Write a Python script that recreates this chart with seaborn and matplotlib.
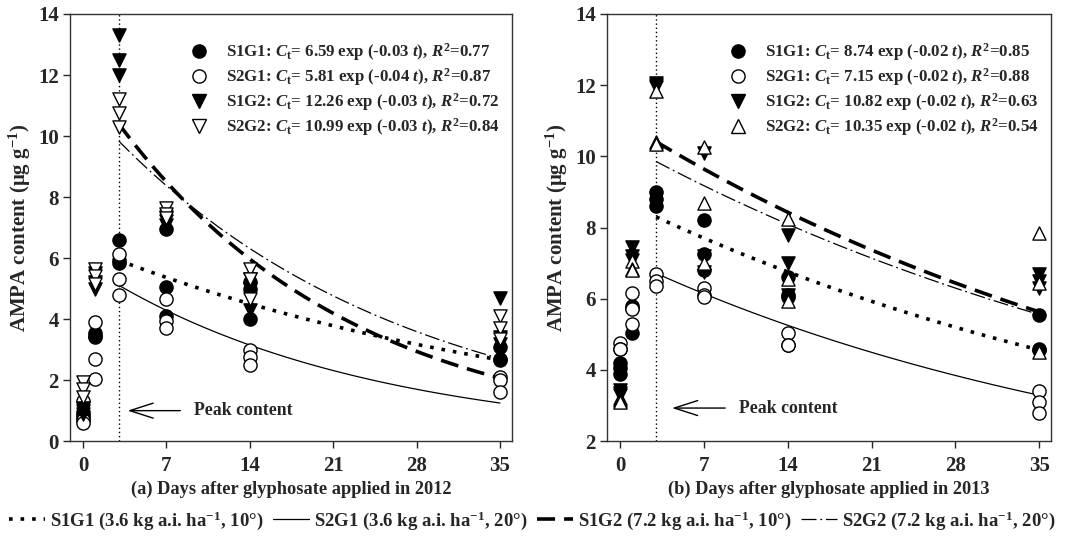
import numpy as np
import pandas as pd
import matplotlib
matplotlib.use("Agg")
import matplotlib.pyplot as plt
from matplotlib.lines import Line2D
import seaborn as sns

# ------------------------------------------------------------------
# Data, 3 replicates per sampling day
# ------------------------------------------------------------------
days = [0, 1, 3, 7, 14, 35]
treatments = ["S1G1", "S2G1", "S1G2", "S2G2"]

# 2012
a_s1g1 = [[0.95, 0.85, 0.75], [3.55, 3.45, 3.40], [6.60, 5.95, 5.85],
          [6.95, 5.05, 4.10], [5.20, 5.00, 4.00], [3.10, 2.70, 2.65]]
a_s2g1 = [[1.30, 0.70, 0.60], [3.90, 2.70, 2.05], [6.15, 5.30, 4.80],
          [4.65, 3.95, 3.70], [3.00, 2.75, 2.50], [2.10, 2.00, 1.60]]
a_s1g2 = [[1.00, 1.10, 0.90], [5.50, 5.20, 5.00], [13.30, 12.50, 12.00],
          [7.20, 7.35, 7.10], [5.30, 5.00, 4.30], [4.70, 3.40, 3.20]]
a_s2g2 = [[1.95, 1.70, 1.45], [5.65, 5.40, 5.15], [11.20, 10.75, 10.30],
          [7.65, 7.45, 7.30], [5.65, 5.30, 4.65], [4.10, 3.70, 3.35]]

# 2013
b_s1g1 = [[4.20, 4.05, 3.90], [5.80, 5.75, 5.05], [9.00, 8.80, 8.60],
          [8.20, 7.25, 6.80], [6.60, 6.10, 6.05], [5.55, 4.60, 4.55]]
b_s2g1 = [[4.75, 4.60, 4.60], [6.15, 5.70, 5.30], [6.70, 6.50, 6.35],
          [6.30, 6.10, 6.05], [5.05, 4.70, 4.70], [3.40, 3.10, 2.80]]
b_s1g2 = [[3.45, 3.35, 3.30], [7.45, 7.20, 7.10], [12.05, 12.00, 11.95],
          [10.10, 7.20, 6.75], [7.80, 7.00, 6.10], [6.70, 6.50, 6.30]]
b_s2g2 = [[3.20, 3.15, 3.10], [7.05, 6.85, 6.80], [11.85, 10.40, 10.35],
          [10.25, 8.70, 7.00], [8.25, 6.55, 5.95], [7.85, 6.45, 4.50]]

# fitted first-order decay curves (as drawn), from day 3 to day 35
fit_a_2012 = [6.39, 5.83, 12.10, 11.10]
fit_k_2012 = [0.0250, 0.0440, 0.0505, 0.0403]
fit_a_2013 = [8.78, 7.18, 11.03, 10.40]
fit_k_2013 = [0.0187, 0.0223, 0.0192, 0.0179]

labels_2012 = [
    r"S1G1: $\mathit{C}_{\mathrm{t}}$= 6.59 exp (-0.03 $\mathit{t}$), $\mathit{R}^{2}$=0.77",
    r"S2G1: $\mathit{C}_{\mathrm{t}}$= 5.81 exp (-0.04 $\mathit{t}$), $\mathit{R}^{2}$=0.87",
    r"S1G2: $\mathit{C}_{\mathrm{t}}$= 12.26 exp (-0.03 $\mathit{t}$), $\mathit{R}^{2}$=0.72",
    r"S2G2: $\mathit{C}_{\mathrm{t}}$= 10.99 exp (-0.03 $\mathit{t}$), $\mathit{R}^{2}$=0.84",
]
labels_2013 = [
    r"S1G1: $\mathit{C}_{\mathrm{t}}$= 8.74 exp (-0.02 $\mathit{t}$), $\mathit{R}^{2}$=0.85",
    r"S2G1: $\mathit{C}_{\mathrm{t}}$= 7.15 exp (-0.02 $\mathit{t}$), $\mathit{R}^{2}$=0.88",
    r"S1G2: $\mathit{C}_{\mathrm{t}}$= 10.82 exp (-0.02 $\mathit{t}$), $\mathit{R}^{2}$=0.63",
    r"S2G2: $\mathit{C}_{\mathrm{t}}$= 10.35 exp (-0.02 $\mathit{t}$), $\mathit{R}^{2}$=0.54",
]
bottom_labels = [
    r"S1G1 (3.6 kg a.i. ha$^{-1}$, 10°)",
    r"S2G1 (3.6 kg a.i. ha$^{-1}$, 20°)",
    r"S1G2 (7.2 kg a.i. ha$^{-1}$, 10°)",
    r"S2G2 (7.2 kg a.i. ha$^{-1}$, 20°)",
]

# ------------------------------------------------------------------
# Style
# ------------------------------------------------------------------
sns.set_theme(style="ticks")
plt.rcParams["font.family"] = ["Liberation Serif", "DejaVu Serif"]
plt.rcParams["font.weight"] = "bold"
plt.rcParams["axes.labelweight"] = "bold"
plt.rcParams["mathtext.fontset"] = "custom"
plt.rcParams["mathtext.rm"] = "Liberation Serif:bold"
plt.rcParams["mathtext.bf"] = "Liberation Serif:bold"
plt.rcParams["mathtext.it"] = "Liberation Serif:italic:bold"

line_styles = {
    "S1G1": dict(linestyle=(0, (1, 2.2)), linewidth=2.6),
    "S2G1": dict(linestyle="-", linewidth=0.9),
    "S1G2": dict(linestyle=(0, (5, 2.5)), linewidth=2.6),
    "S2G2": dict(linestyle=(0, (12, 3, 1.5, 3)), linewidth=0.9),
}


def long_frame(series):
    rows = []
    for trt, vals in zip(treatments, series):
        for d, reps in zip(days, vals):
            for v in reps:
                rows.append((trt, d, v))
    return pd.DataFrame(rows, columns=["trt", "day", "ampa"])


def curve_frame(fa, fk):
    t = np.linspace(3, 35, 120)
    frames = []
    for trt, a, k in zip(treatments, fa, fk):
        frames.append(pd.DataFrame({"trt": trt, "day": t, "ampa": a * np.exp(-k * t)}))
    return pd.concat(frames)


def draw_panel(ax, pts, curves, s2g2_marker, labels, ylim, arrow, xlabel):
    markers = {"S1G1": ("o", "black"), "S2G1": ("o", "white"),
               "S1G2": ("v", "black"), "S2G2": (s2g2_marker, "white")}

    for trt in treatments:
        sub = curves[curves["trt"] == trt]
        sns.lineplot(data=sub, x="day", y="ampa", ax=ax, color="black",
                     legend=False, **line_styles[trt])

    for trt in treatments:
        sub = pts[pts["trt"] == trt]
        mk, fc = markers[trt]
        sns.scatterplot(data=sub, x="day", y="ampa", ax=ax, marker=mk, s=90,
                        facecolor=fc, edgecolor="black", linewidth=1.0,
                        legend=False, zorder=3)

    ax.axvline(3, color="black", linestyle=(0, (1, 2)), linewidth=1.0, zorder=1)

    ax.set_xlim(-1.1, 36)
    ax.set_ylim(*ylim)
    ax.set_xticks([0, 7, 14, 21, 28, 35])
    ax.set_yticks(np.arange(ylim[0], 15, 2))
    ax.tick_params(direction="out", length=5, width=1, labelsize=15,
                   top=False, right=False, pad=3)
    ax.tick_params(axis="x", pad=6)
    for lab in ax.get_xticklabels() + ax.get_yticklabels():
        lab.set_fontweight("bold")
    for sp in ax.spines.values():
        sp.set_linewidth(1.0)
        sp.set_color("#333333")

    ax.set_xlabel(xlabel, fontsize=13.2, fontweight="bold", labelpad=3)
    ax.set_ylabel(r"AMPA content (μg g$^{-1}$)", fontsize=15, fontweight="bold",
                  labelpad=4)

    handles = []
    for trt in treatments:
        mk, fc = markers[trt]
        handles.append(Line2D([], [], linestyle="none", marker=mk, markersize=9.5,
                              markerfacecolor=fc, markeredgecolor="black"))
    ax.legend(handles, labels, loc="upper right", frameon=False, fontsize=12.2,
              handletextpad=0.6, labelspacing=0.18, borderaxespad=0.2,
              bbox_to_anchor=(0.995, 0.96))

    hx, tx, ty = arrow
    ax.annotate("", xy=(hx, ty), xytext=(tx, ty),
                arrowprops=dict(arrowstyle="->,head_length=1.4,head_width=0.45",
                                lw=1.0, color="black"))
    ax.text(tx + 0.9, ty, "Peak content", fontsize=12.8, fontweight="bold",
            va="center", ha="left")


fig = plt.figure(figsize=(10.65, 5.38), dpi=100)
ax_a = fig.add_axes([0.0657, 0.180, 0.415, 0.794])
ax_b = fig.add_axes([0.570, 0.180, 0.417, 0.794])

draw_panel(ax_a, long_frame([a_s1g1, a_s2g1, a_s1g2, a_s2g2]),
           curve_frame(fit_a_2012, fit_k_2012), "v", labels_2012, (0, 14),
           (3.5, 8.4, 1.0), "(a) Days after glyphosate applied in 2012")
draw_panel(ax_b, long_frame([b_s1g1, b_s2g1, b_s1g2, b_s2g2]),
           curve_frame(fit_a_2013, fit_k_2013), "^", labels_2013, (2, 14),
           (4.1, 9.0, 2.93), "(b) Days after glyphosate applied in 2013")

bottom_handles = [Line2D([], [], color="black", **line_styles[t]) for t in treatments]
fig.legend(bottom_handles, bottom_labels, loc="lower center", ncol=4,
           frameon=False, fontsize=13.5, handlelength=1.9, handletextpad=0.3,
           columnspacing=0.5, bbox_to_anchor=(0.5, -0.02))

fig.savefig("out.png", dpi=100)
